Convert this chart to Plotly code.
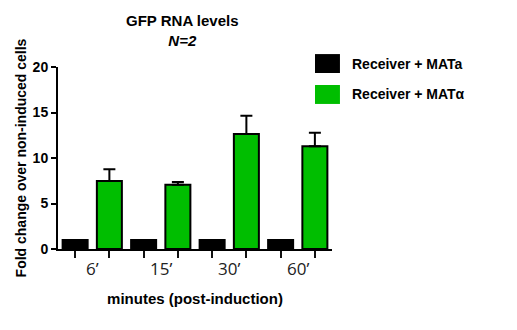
import plotly.graph_objects as go

# data
categories = ["6’", "15’", "30’", "60’"]
mata_vals = [1.0, 1.0, 1.0, 1.0]
matalpha_vals = [7.47, 7.07, 12.64, 11.28]
matalpha_err = [1.29, 0.29, 2.01, 1.50]
series_names = ["Receiver + MATa", "Receiver + MATα"]
y_ticks = [0, 5, 10, 15, 20]

black = "#000000"
green = "#00BE00"
bold_font = "Liberation Sans"

# numeric x: ticks go under each bar, category labels under each group
x_pos = list(range(len(categories)))
bar_ticks = []
for i in x_pos:
    bar_ticks += [i - 0.25, i + 0.25]

fig = go.Figure()

fig.add_trace(go.Bar(
    x=x_pos, y=mata_vals, name=series_names[0],
    marker=dict(color=black, line=dict(color=black, width=2)),
    showlegend=False,
))
fig.add_trace(go.Bar(
    x=x_pos, y=matalpha_vals, name=series_names[1],
    marker=dict(color=green, line=dict(color=black, width=2)),
    error_y=dict(type="data", symmetric=False, array=matalpha_err,
                 arrayminus=[0] * len(matalpha_err),
                 color=black, thickness=2, width=6),
    showlegend=False,
))

fig.update_layout(
    width=517, height=330,
    margin=dict(l=58, r=185, t=67, b=81, autoexpand=False),
    plot_bgcolor="white", paper_bgcolor="white",
    barmode="group", bargap=0, bargroupgap=0.27,
    xaxis=dict(
        range=[-0.5, 3.5], automargin=False,
        tickmode="array", tickvals=bar_ticks, showticklabels=False,
        showline=True, linecolor=black, linewidth=2,
        ticks="outside", ticklen=7, tickwidth=2, tickcolor="#111111",
        title=dict(text="<b>minutes (post-induction)</b>",
                   font=dict(family=bold_font, size=15, color=black), standoff=36),
        showgrid=False, zeroline=False,
    ),
    yaxis=dict(
        range=[0, 20], tickvals=y_ticks, automargin=False,
        showline=True, linecolor=black, linewidth=2,
        ticks="outside", ticklen=5, tickwidth=2, tickcolor=black,
        tickfont=dict(family=bold_font, size=14, color=black, weight="bold"),
        title=dict(text="<b>Fold change over non-induced cells</b>",
                   font=dict(family=bold_font, size=14, color=black), standoff=3),
        showgrid=False, zeroline=False,
    ),
    font=dict(family=bold_font, color=black),
)

# category labels centred under each pair of bars
for xv, lab in zip(x_pos, categories):
    fig.add_annotation(text=lab, x=xv, xref="x", y=0, yref="paper",
                       yanchor="middle", yshift=-19, showarrow=False,
                       font=dict(family="Open Sans", size=17, color="#222"))

# title
fig.add_annotation(
    text="<b>GFP RNA levels</b><br><b><i>N=2</i></b>",
    xref="paper", yref="paper", x=0.456, y=1.09,
    xanchor="center", yanchor="bottom", showarrow=False,
    font=dict(family=bold_font, size=15, color=black),
)

# legend drawn by hand with larger swatches
for k, (name, col) in enumerate(zip(series_names, [black, green])):
    y0 = 1.071 - k * 0.17
    fig.add_shape(type="rect", xref="paper", yref="paper",
                  x0=0.938, x1=1.029, y0=y0 - 0.104, y1=y0,
                  fillcolor=col, line=dict(width=0))
    fig.add_annotation(text=f"<b>{name}</b>", xref="paper", yref="paper",
                       x=1.066, y=y0 - 0.052, xanchor="left", yanchor="middle",
                       showarrow=False, font=dict(family=bold_font, size=14, color=black))

fig.write_html("out.html", config={"displayModeBar": False},
               post_script="document.body.style.margin='0';")
